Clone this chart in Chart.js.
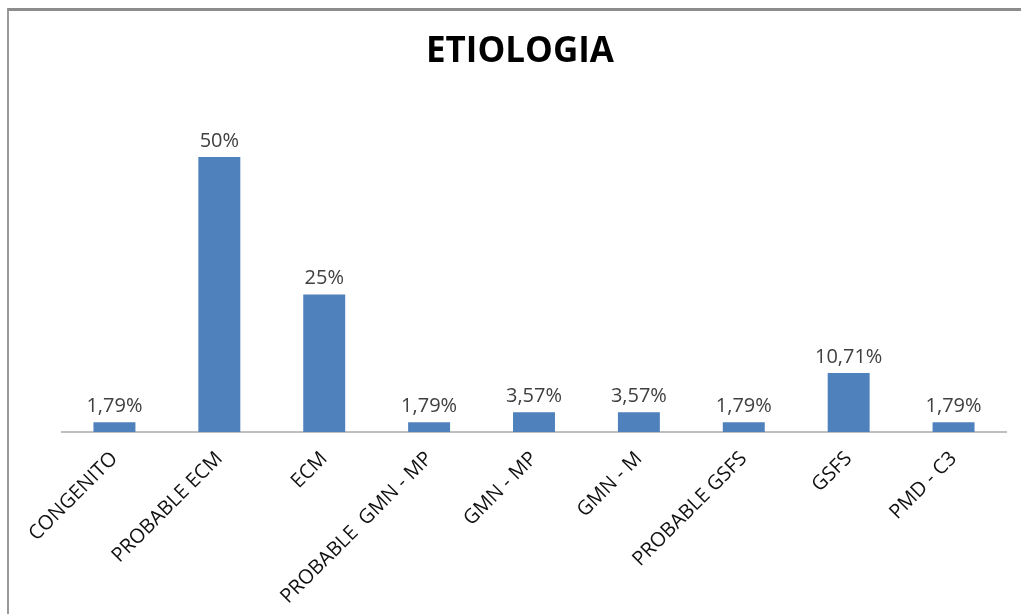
<!DOCTYPE html>
<html>
<head>
<meta charset="utf-8">
<script src="https://cdn.jsdelivr.net/npm/chart.js@4.4.1/dist/chart.umd.min.js"></script>
<style>
    html, body { margin: 0; padding: 0; background: #fff; }
    #wrap { position: relative; width: 1021px; height: 614px; }
    #frame {
        position: absolute; left: 7px; top: 8px; right: 0; bottom: 0;
        border-top: 3px solid #8c8c8c; border-left: 2px solid #9a9a9a;
        pointer-events: none;
    }
    canvas { position: absolute; left: 0; top: 0; }
</style>
</head>
<body>
<div id="wrap">
    <canvas id="chart" width="1021" height="614"></canvas>
    <div id="frame"></div>
</div>
<script>
// Chart data
const categories = ['CONGENITO', 'PROBABLE ECM', 'ECM', 'PROBABLE  GMN - MP', 'GMN - MP',
                    'GMN - M', 'PROBABLE GSFS', 'GSFS', 'PMD - C3'];
const percentages = [1.79, 50, 25, 1.79, 3.57, 3.57, 1.79, 10.71, 1.79];
const chartTitle = 'ETIOLOGIA';

const FONT = "'Open Sans', 'DejaVu Sans', sans-serif";

function fmt(v) {
    // comma decimal, like the source
    return String(v).replace('.', ',') + '%';
}

// draw the value above each bar
const barLabels = {
    id: 'barLabels',
    afterDatasetsDraw(chart) {
        const ctx = chart.ctx;
        const meta = chart.getDatasetMeta(0);
        ctx.save();
        ctx.font = '20px ' + FONT;
        ctx.fillStyle = '#404040';
        ctx.textAlign = 'center';
        ctx.textBaseline = 'bottom';
        meta.data.forEach((bar, i) => {
            ctx.fillText(fmt(percentages[i]), bar.x, bar.y - 6);
        });
        ctx.restore();
    }
};

const ctx = document.getElementById('chart').getContext('2d');
new Chart(ctx, {
    type: 'bar',
    data: {
        labels: categories,
        datasets: [{
            data: percentages,
            backgroundColor: '#4f81bd',
            borderWidth: 0,
            barPercentage: 0.4,
            categoryPercentage: 1
        }]
    },
    options: {
        responsive: false,
        animation: false,
        layout: { padding: { left: 34, right: 15, top: 8, bottom: 10 } },
        plugins: {
            legend: { display: false },
            tooltip: { enabled: false },
            title: {
                display: true,
                text: chartTitle,
                color: '#000',
                font: { family: FONT, size: 35, weight: 'bold' },
                padding: { top: 23, bottom: 29 }
            }
        },
        scales: {
            y: {
                // invisible, only keeps the plot's left edge in place
                display: true,
                min: 0,
                max: 60,
                grid: { display: false, drawTicks: false },
                border: { display: false },
                ticks: { display: false },
                afterFit(scale) { scale.width = 28; }
            },
            x: {
                grid: { display: false, drawTicks: false },
                border: { display: true, color: '#bfbfbf', width: 2 },
                ticks: {
                    color: '#111',
                    font: { family: FONT, size: 20 },
                    minRotation: 45,
                    maxRotation: 45,
                    autoSkip: false,
                    padding: 15
                },
                afterFit(scale) { scale.height = 172; }
            }
        }
    },
    plugins: [barLabels]
});
</script>
</body>
</html>
